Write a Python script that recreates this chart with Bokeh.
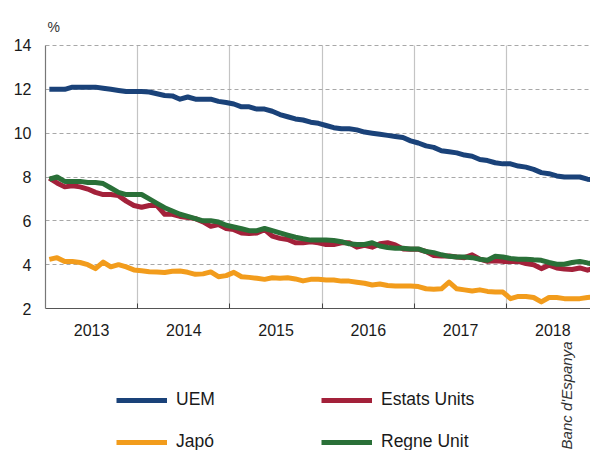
import math
from bokeh.plotting import figure
from bokeh.models import (FixedTicker, Legend, LegendItem, Label, Range1d,
                          CustomJSTickFormatter)
from bokeh.embed import file_html
from bokeh.resources import INLINE

# ---------------- data (monthly unemployment rate, %) ----------------
years = [2013, 2014, 2015, 2016, 2017, 2018]
year_labels = ["2013", "2014", "2015", "2016", "2017", "2018"]
months = [1, 2, 3, 4, 5, 6, 7, 8, 9, 10, 11, 12]

uem = [12.0, 12.0, 12.0, 12.1, 12.1, 12.1, 12.1, 12.05, 12.0, 11.95, 11.9, 11.9,
       11.9, 11.88, 11.8, 11.72, 11.7, 11.55, 11.65, 11.55, 11.55, 11.55, 11.45, 11.4,
       11.33, 11.2, 11.2, 11.1, 11.1, 11.0, 10.85, 10.75, 10.65, 10.6, 10.5, 10.45,
       10.35, 10.25, 10.2, 10.2, 10.15, 10.05, 10.0, 9.95, 9.9, 9.85, 9.8, 9.65,
       9.55, 9.42, 9.35, 9.2, 9.15, 9.1, 9.0, 8.95, 8.8, 8.75, 8.65, 8.6,
       8.6, 8.5, 8.45, 8.35, 8.2, 8.15, 8.05, 8.0, 8.0, 8.0, 7.9, 7.85]

japo = [4.24, 4.32, 4.14, 4.14, 4.1, 4.0, 3.82, 4.12, 3.9, 4.0, 3.9, 3.76,
        3.72, 3.68, 3.66, 3.64, 3.7, 3.71, 3.65, 3.56, 3.58, 3.67, 3.45, 3.5,
        3.65, 3.45, 3.42, 3.38, 3.33, 3.4, 3.38, 3.4, 3.35, 3.26, 3.33, 3.33,
        3.3, 3.3, 3.25, 3.25, 3.2, 3.15, 3.07, 3.12, 3.05, 3.03, 3.03, 3.03,
        3.0, 2.9, 2.88, 2.9, 3.2, 2.9, 2.85, 2.8, 2.85, 2.78, 2.75, 2.75,
        2.45, 2.55, 2.55, 2.5, 2.3, 2.5, 2.5, 2.45, 2.45, 2.45, 2.5, 2.55]

estats_units = [7.95, 7.73, 7.55, 7.6, 7.55, 7.45, 7.3, 7.2, 7.2, 7.15, 6.9, 6.7,
                6.62, 6.7, 6.7, 6.3, 6.3, 6.2, 6.15, 6.1, 5.95, 5.75, 5.83, 5.65,
                5.6, 5.45, 5.42, 5.45, 5.6, 5.3, 5.2, 5.15, 5.0, 5.0, 5.05, 5.0,
                4.92, 4.92, 5.0, 5.0, 4.8, 4.88, 4.8, 4.95, 5.0, 4.9, 4.72, 4.7,
                4.7, 4.6, 4.42, 4.4, 4.4, 4.35, 4.32, 4.45, 4.25, 4.15, 4.18, 4.15,
                4.15, 4.15, 4.05, 4.0, 3.82, 3.98, 3.85, 3.8, 3.78, 3.85, 3.75, 3.85]

regne_unit = [7.9, 8.0, 7.8, 7.8, 7.8, 7.75, 7.75, 7.7, 7.5, 7.3, 7.2, 7.2,
              7.2, 7.0, 6.8, 6.6, 6.45, 6.3, 6.2, 6.1, 6.0, 6.0, 5.95, 5.8,
              5.72, 5.64, 5.55, 5.55, 5.65, 5.55, 5.45, 5.35, 5.25, 5.18, 5.12, 5.12,
              5.12, 5.1, 5.05, 4.95, 4.92, 4.92, 5.0, 4.85, 4.78, 4.75, 4.75, 4.72,
              4.72, 4.6, 4.55, 4.45, 4.38, 4.35, 4.35, 4.32, 4.25, 4.2, 4.38, 4.35,
              4.28, 4.25, 4.25, 4.22, 4.2, 4.1, 4.02, 4.02, 4.1, 4.15, 4.08, 4.02]

y_ticks = [2, 4, 6, 8, 10, 12, 14]

# x positions: middle of each month, in fractional years
x = [y + (m - 0.5) / 12 for y in years for m in months]

FONT = "Liberation Sans"

# plotting area 2013..end (x) and 2..14 (y); the ranges are widened so that
# the frame covers the whole canvas and the legend/notes below are not clipped
X0, X1 = 2013.0, 2018.908
PX_PER_YEAR = 92.25
PX_PER_UNIT = 21.9167
x_range = Range1d(X0 - 45 / PX_PER_YEAR, X1)
y_range = Range1d(2 - 142 / PX_PER_UNIT, 14 + 45 / PX_PER_UNIT)

p = figure(width=590, height=450, output_backend="svg", toolbar_location=None,
           title=None, x_range=x_range, y_range=y_range,
           min_border_left=0, min_border_top=0, min_border_right=0,
           min_border_bottom=0)
p.outline_line_color = None
p.background_fill_color = "white"
p.border_fill_color = "white"

# x axis: labels at mid-year, small ticks at year boundaries
p.xaxis.fixed_location = 2
p.xaxis.bounds = (X0, X1)
p.xaxis.ticker = FixedTicker(ticks=[y + 0.5 for y in years], minor_ticks=years[1:])
p.xaxis.formatter = CustomJSTickFormatter(code="return Math.floor(tick).toFixed(0);")
p.xaxis.major_tick_line_color = None
p.xaxis.major_tick_in = 0
p.xaxis.major_tick_out = 0
p.xaxis.minor_tick_in = 5
p.xaxis.minor_tick_out = 0
p.xaxis.minor_tick_line_color = "#444444"
p.xaxis.axis_line_color = "#555555"
p.xaxis.axis_line_width = 1.2
p.xaxis.major_label_standoff = 15

p.yaxis.fixed_location = X0
p.yaxis.bounds = (2, 14)
p.yaxis.ticker = FixedTicker(ticks=y_ticks)
p.yaxis.major_tick_line_color = None
p.yaxis.minor_tick_line_color = None
p.yaxis.major_tick_in = 0
p.yaxis.major_tick_out = 0
p.yaxis.axis_line_color = "#777777"
p.yaxis.axis_line_width = 1.2
p.yaxis.major_label_standoff = 14

for ax in (p.xaxis, p.yaxis):
    ax.major_label_text_font = FONT
    ax.major_label_text_font_size = "16px"
    ax.major_label_text_color = "#1a1a1a"

p.xgrid.ticker = FixedTicker(ticks=years[1:])
p.xgrid.cross_bounds = (2, 14)
p.xgrid.grid_line_color = "#c4c4c4"
p.xgrid.grid_line_width = 1.2
p.ygrid.ticker = FixedTicker(ticks=y_ticks[1:])
p.ygrid.cross_bounds = (X0, X1)
p.ygrid.grid_line_color = "#a8a8a8"
p.ygrid.grid_line_dash = "4 3"
p.ygrid.grid_line_width = 1

# series
r_uem = p.line(x, uem, line_color="#1a4279", line_width=5, line_join="round")
r_jp = p.line(x, japo, line_color="#f29c1c", line_width=5, line_join="round")
r_us = p.line(x, estats_units, line_color="#a3213a", line_width=5, line_join="round")
r_uk = p.line(x, regne_unit, line_color="#2a7038", line_width=5, line_join="round")


def make_legend(items, loc):
    return Legend(items=items, location=loc, orientation="vertical",
                  glyph_width=51, glyph_height=16, label_height=16,
                  label_standoff=9, spacing=21, padding=0, margin=0,
                  border_line_color=None, background_fill_alpha=0,
                  label_text_font=FONT, label_text_font_size="17.5px",
                  label_text_color="#1a1a1a", label_text_baseline="middle")


p.add_layout(make_legend([LegendItem(label="UEM", renderers=[r_uem]),
                          LegendItem(label="Japó", renderers=[r_jp])], (116, -2)))
p.add_layout(make_legend([LegendItem(label="Estats Units", renderers=[r_us]),
                          LegendItem(label="Regne Unit", renderers=[r_uk])], (321, -2)))

p.add_layout(Label(x=X0 + 2 / PX_PER_YEAR, y=14 + 18.5 / PX_PER_UNIT, text="%",
                   text_font=FONT, text_font_size="14px", text_color="#333333",
                   text_baseline="middle", text_align="left"))

p.add_layout(Label(x=X0 + 521 / PX_PER_YEAR, y=14 - 296 / PX_PER_UNIT,
                   text="Banc d'Espanya", angle=math.pi / 2,
                   text_font=FONT, text_font_style="italic",
                   text_font_size="15px", text_color="#333333",
                   text_align="right", text_baseline="middle"))

open("out.html", "w").write(file_html(p, INLINE))
